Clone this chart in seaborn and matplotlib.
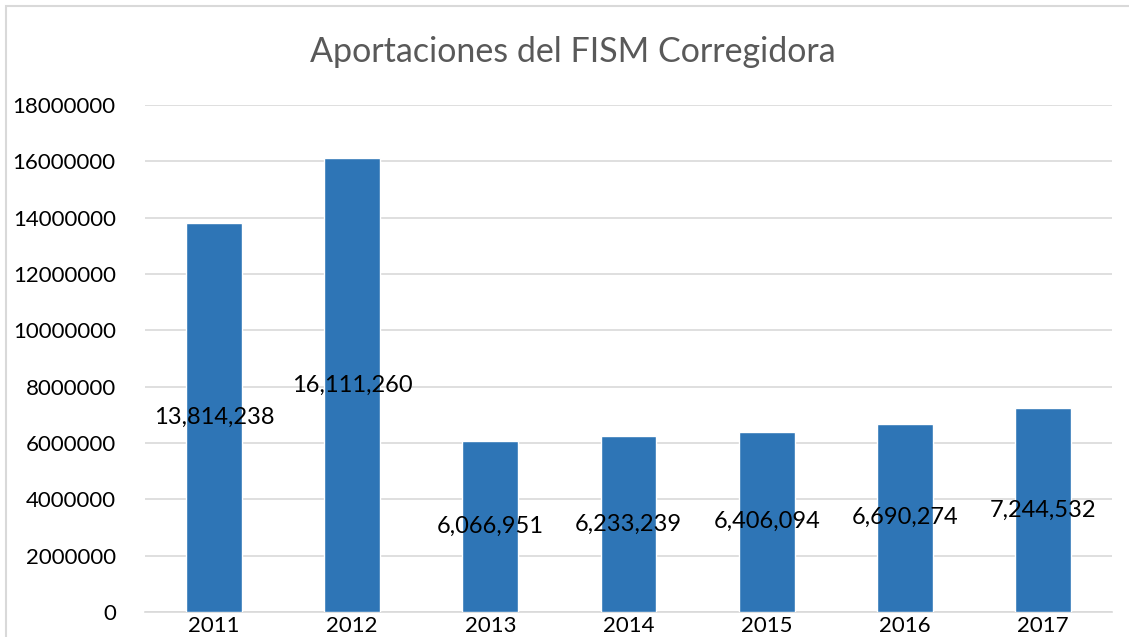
import matplotlib
matplotlib.use("Agg")
import matplotlib.pyplot as plt
import seaborn as sns
import pandas as pd
from matplotlib.patches import Rectangle

years = ["2011", "2012", "2013", "2014", "2015", "2016", "2017"]
aportaciones = [13814238, 16111260, 6066951, 6233239, 6406094, 6690274, 7244532]
y_ticks = [0, 2000000, 4000000, 6000000, 8000000, 10000000, 12000000, 14000000, 16000000, 18000000]

df = pd.DataFrame({"Year": years, "Monto": aportaciones})

sns.set_theme(style="white")
plt.rcParams["font.family"] = ["Lato", "DejaVu Sans"]

fig = plt.figure(figsize=(11.29, 6.37), dpi=100)
ax = fig.add_axes([0.1284, 0.0392, 0.8566, 0.7958])

sns.barplot(data=df, x="Year", y="Monto", color="#2E75B6", saturation=1,
            width=0.405, ax=ax, zorder=3)

ax.set_ylim(0, 18000000)
ax.set_yticks(y_ticks)
ax.set_yticklabels([str(t) for t in y_ticks], fontsize=16, color="black")
ax.set_xlim(-0.5, len(years) - 0.5)
ax.tick_params(axis="x", labelsize=16, colors="black", length=0, pad=3)
ax.tick_params(axis="y", length=0, pad=21)
ax.set_xlabel("")
ax.set_ylabel("")

ax.grid(axis="y", color="#D9D9D9", linewidth=1.2, zorder=0)
ax.grid(axis="x", visible=False)
for s in ["top", "right", "left"]:
    ax.spines[s].set_visible(False)
ax.spines["bottom"].set_color("#D9D9D9")
ax.spines["bottom"].set_linewidth(1.2)

# data labels centered in bars
for i, v in enumerate(aportaciones):
    ax.text(i, v / 2, f"{v:,}", ha="center", va="center", fontsize=17,
            color="black", zorder=4)

fig.text(0.507, 0.918, "Aportaciones del FISM Corregidora", ha="center",
         va="center", fontsize=24.5, color="#595959")

# chart border
fig.patches.append(Rectangle((6 / 1129, -0.1), 1.2, 1 - 6 / 637 + 0.1,
                             transform=fig.transFigure, fill=False,
                             edgecolor="#D9D9D9", linewidth=1.5))

fig.savefig("out.png", dpi=100, facecolor="white")
